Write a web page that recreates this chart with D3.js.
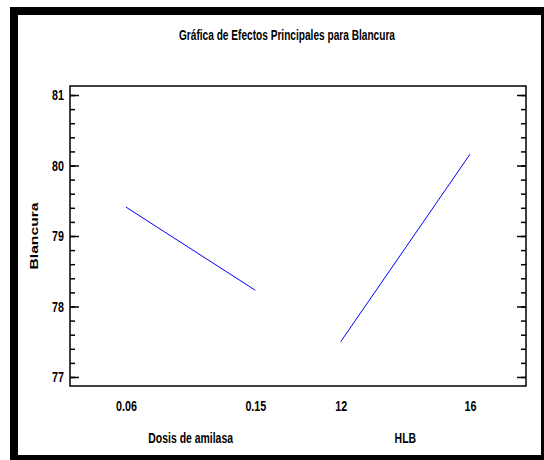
<!DOCTYPE html>
<html>
<head>
<meta charset="utf-8">
<script src="https://cdn.jsdelivr.net/npm/d3@7"></script>
<style>
  html, body { margin: 0; padding: 0; background: #fff; }
  svg { display: block; }
  .narrow { font-family: "Liberation Sans Narrow", "Arial Narrow", "Liberation Sans", Arial, sans-serif; font-weight: bold; }
</style>
</head>
<body>
<svg id="chart" width="544" height="460"></svg>
<script>
// ---- data ----
const title = "Gráfica de Efectos Principales para Blancura";
const yLabel = "Blancura";
const factors = ["Dosis de amilasa", "HLB"];
const doseLevels = ["0.06", "0.15"];
const hlbLevels = ["12", "16"];
const doseMeans = [79.41, 78.23];
const hlbMeans = [77.50, 80.16];
const yTicks = [77, 78, 79, 80, 81];

// ---- layout ----
const svg = d3.select("#chart");
const W = 544, H = 460;
const plot = { left: 70, right: 526, top: 86, bottom: 386 };
const condense = 0.74;   // emulate a condensed bold face
const fs = 14.5;

svg.append("rect").attr("x", 0).attr("y", 0).attr("width", W).attr("height", H).attr("fill", "#fff");

// outer thick frame
const frame = svg.append("g").attr("fill", "#000");
frame.append("rect").attr("x", 10).attr("y", 7).attr("width", 8).attr("height", 453);
frame.append("rect").attr("x", 10).attr("y", 7).attr("width", 534).attr("height", 8);
frame.append("rect").attr("x", 541).attr("y", 7).attr("width", 3).attr("height", 453);
frame.append("rect").attr("x", 10).attr("y", 455).attr("width", 534).attr("height", 5);

// scales
const y = d3.scaleLinear().domain([76.872, 81.128]).range([plot.bottom, plot.top]);
const slots = [0, 1, 1.66, 2.66];
const x = d3.scaleLinear().domain([-0.433, 3.093]).range([plot.left, plot.right]);
const allLevels = doseLevels.concat(hlbLevels);

// title
svg.append("text").attr("class", "narrow")
  .attr("x", 287).attr("y", 39.5).attr("text-anchor", "middle")
  .attr("font-size", 14)
  .attr("textLength", 216).attr("lengthAdjust", "spacingAndGlyphs")
  .text(title);

// plot frame
svg.append("rect")
  .attr("x", plot.left).attr("y", plot.top)
  .attr("width", plot.right - plot.left).attr("height", plot.bottom - plot.top)
  .attr("fill", "none").attr("stroke", "#000").attr("stroke-width", 1.5);

// minor ticks
const minor = d3.range(77, 81.001, 0.2).map(v => +v.toFixed(1));
const gMinL = svg.append("g").attr("transform", `translate(${plot.left},0)`)
  .call(d3.axisLeft(y).tickValues(minor).tickSize(-5).tickFormat(""));
const gMinR = svg.append("g").attr("transform", `translate(${plot.right},0)`)
  .call(d3.axisRight(y).tickValues(minor).tickSize(-5).tickFormat(""));
// major ticks
const gMajL = svg.append("g").attr("transform", `translate(${plot.left},0)`)
  .call(d3.axisLeft(y).tickValues(yTicks).tickSize(-9).tickPadding(6 / condense).tickFormat(d3.format("d")));
const gMajR = svg.append("g").attr("transform", `translate(${plot.right},0)`)
  .call(d3.axisRight(y).tickValues(yTicks).tickSize(-9).tickFormat(""));
[gMinL, gMinR, gMajL, gMajR].forEach(g => {
  g.select(".domain").remove();
  g.selectAll(".tick line").attr("stroke", "#000").attr("stroke-width", 1.5);
});
gMajL.selectAll("text").attr("class", "narrow").attr("font-size", fs)
  .attr("fill", "#000").attr("font-family", null)
  .attr("transform", `scale(${condense},1)`);

// x axis (level labels)
const gx = svg.append("g").attr("transform", `translate(0,${plot.bottom})`)
  .call(d3.axisBottom(x).tickValues(slots).tickSize(0).tickPadding(15)
    .tickFormat((d, i) => allLevels[i]));
gx.select(".domain").remove();
gx.selectAll("text").attr("class", "narrow").attr("font-size", fs)
  .attr("fill", "#000").attr("font-family", null)
  .attr("transform", `scale(${condense},1)`);

// factor names
svg.append("g").selectAll("g").data(factors).join("g")
  .attr("transform", (d, i) => `translate(${(x(slots[2 * i]) + x(slots[2 * i + 1])) / 2},443) scale(0.72,1)`)
  .append("text")
  .attr("class", "narrow").attr("font-size", fs).attr("text-anchor", "middle")
  .text(d => d);

// y label
svg.append("text")
  .attr("transform", `translate(37.5,${(plot.top + plot.bottom) / 2}) rotate(-90)`)
  .attr("text-anchor", "middle")
  .attr("font-family", "'Liberation Sans', Arial, sans-serif")
  .attr("font-weight", "bold").attr("font-size", 11.5)
  .attr("textLength", 67).attr("lengthAdjust", "spacingAndGlyphs")
  .text(yLabel);

// effect lines
const line = d3.line().x(d => x(d.s)).y(d => y(d.v));
const series = [
  doseMeans.map((v, i) => ({ s: slots[i], v })),
  hlbMeans.map((v, i) => ({ s: slots[i + 2], v }))
];
svg.append("g").selectAll("path").data(series).join("path")
  .attr("d", line).attr("fill", "none").attr("stroke", "#0000ff").attr("stroke-width", 1);
</script>
</body>
</html>
